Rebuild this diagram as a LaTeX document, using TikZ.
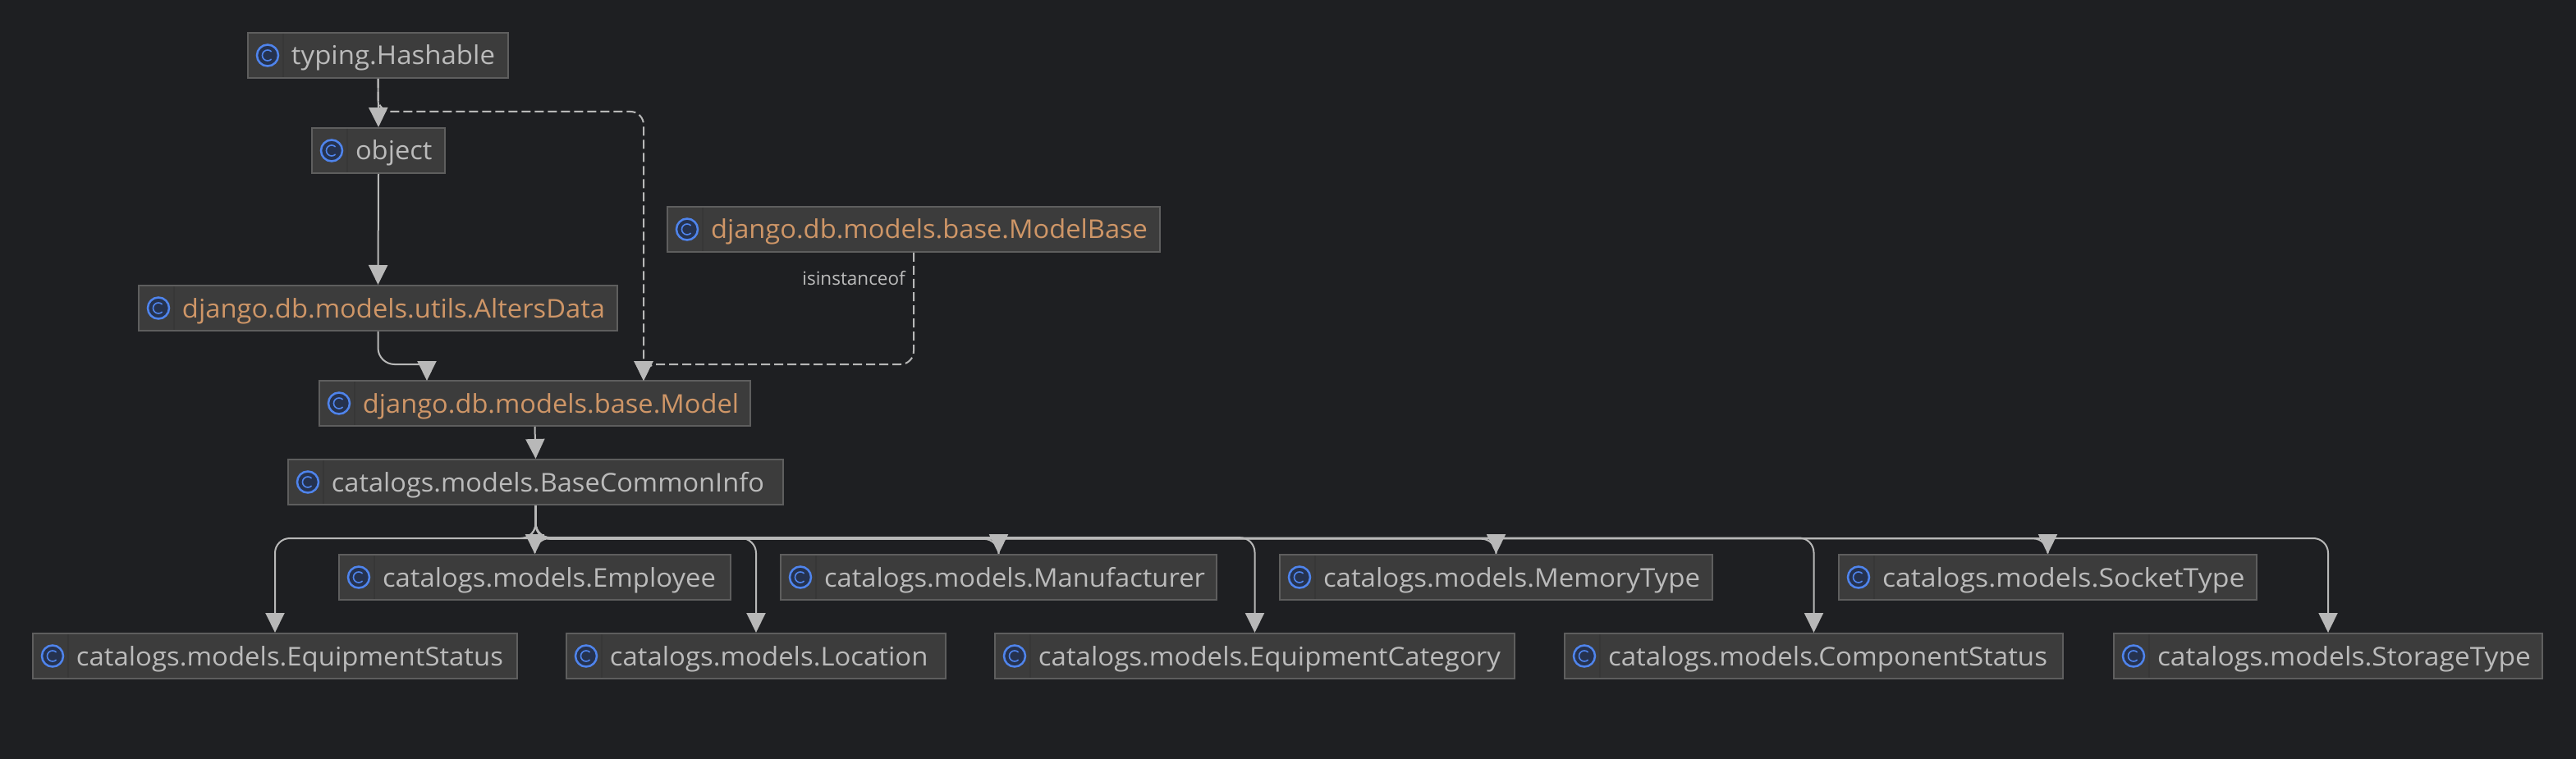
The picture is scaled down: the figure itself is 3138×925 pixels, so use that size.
\documentclass[tikz,border=0pt]{standalone}
\usepackage{fontspec}
\usepackage{graphicx}
\setmainfont{Open Sans}
\usetikzlibrary{arrows.meta}
\definecolor{bg}{HTML}{1E1F22}
\definecolor{boxfill}{HTML}{3C3C3C}
\definecolor{boxline}{HTML}{5E5E5E}
\definecolor{cell}{HTML}{373737}
\definecolor{txt}{HTML}{BBBBBB}
\definecolor{orng}{HTML}{CF9667}
\definecolor{iconb}{HTML}{4F84EC}
\definecolor{iconf}{HTML}{25324F}
\definecolor{edgec}{HTML}{B8B8B8}
\tikzset{
  classbox/.style={draw=boxline,fill=boxfill,line width=2pt,inner sep=0pt,rectangle,minimum height=55pt,font=\fontsize{31.5pt}{36pt}\selectfont},
  edgeline/.style={draw=edgec,line width=2pt},
  edge/.style={edgeline,-{Triangle[width=23pt,length=24pt,fill=edgec]}},
  dashedge/.style={edge,dash pattern=on 11pt off 5pt},
  bus/.style={edge,rounded corners=18pt},
  smalllabel/.style={text=txt,inner sep=0pt,font=\fontsize{22.5pt}{26pt}\selectfont}
}
% name, x1, x2, y1, colour, right margin, text
\newcommand\cls[7]{%
  \pgfmathsetmacro\cx{(#2+#3)/2}%
  \pgfmathsetmacro\cy{#4+27.5}%
  \pgfmathsetmacro\bw{#3-#2}%
  \pgfmathsetmacro\tw{#3-#2-53-#6}%
  \node[classbox,minimum width=\bw pt,text=#5] (#1) at (\cx,\cy)
    {\hspace*{53pt}\raisebox{0pt}[23pt][0pt]{\resizebox{\tw pt}{\height}{#7}}\hspace*{#6pt}};
  \begin{scope}[shift={(#1.west)}]
    \draw[cell,line width=1.5pt] (44,-26.5) -- (44,26.5);
    \draw[iconb,fill=iconf,line width=2.5pt] (25,0) circle[radius=13pt];
    \draw[iconb,line width=1.6pt] (29.6,-4.6) arc[start angle=45,end angle=315,radius=6.5pt];
  \end{scope}
}
\begin{document}
\begin{tikzpicture}[x=1pt,y=-1pt]
\fill[bg] (0,0) rectangle (3138,925);
\useasboundingbox (0,0) rectangle (3138,925);
\coordinate (busy) at (0,656);
\coordinate (upy) at (0,136);
\coordinate (lowy) at (0,444);
\cls{hash}{302}{619}{40}{txt}{16}{typing.Hashable}
\cls{obj}{380}{542}{156}{txt}{15.5}{object}
\cls{mbase}{813}{1413}{252}{orng}{15}{django.db.models.base.ModelBase}
\cls{alters}{169}{752}{348}{orng}{15}{django.db.models.utils.AltersData}
\cls{model}{389}{914}{464}{orng}{14}{django.db.models.base.Model}
\cls{base}{351}{954}{560}{txt}{23}{catalogs.models.BaseCommonInfo}
\cls{emp}{413}{890}{676}{txt}{18}{catalogs.models.Employee}
\cls{manu}{951}{1482}{676}{txt}{14}{catalogs.models.Manufacturer}
\cls{mem}{1559}{2086}{676}{txt}{15}{catalogs.models.MemoryType}
\cls{sock}{2240}{2749}{676}{txt}{14.5}{catalogs.models.SocketType}
\cls{eqs}{40}{630}{772}{txt}{17}{catalogs.models.EquipmentStatus}
\cls{loc}{690}{1152}{772}{txt}{21.5}{catalogs.models.Location}
\cls{eqc}{1212}{1845}{772}{txt}{17}{catalogs.models.EquipmentCategory}
\cls{comp}{1906}{2513}{772}{txt}{19}{catalogs.models.ComponentStatus}
\cls{stor}{2575}{3097}{772}{txt}{14}{catalogs.models.StorageType}
\coordinate (mleft) at (520,464);
\coordinate (mlefttop) at (520,440);
\coordinate (mleftend) at (516,444);
\coordinate (mright) at (784,464);

\draw[edge] (hash.south) -- (obj.north);
\draw[edge] (obj.south) -- (alters.north);
\draw[edgeline,rounded corners=20pt] (alters.south) |- (mleftend);
\draw[edge] (mlefttop) -- (mleft);
\draw[edge] (model.south) -- (base.north);
\draw[dashedge,rounded corners=16pt] (hash.south) |- (mright |- upy) -- (mright);
\draw[dashedge,rounded corners=16pt] (mbase.south) |- (mright |- lowy) -- (mright);
\node[smalllabel,anchor=base east] (lbl) at (1103,347.5) {isinstanceof};

\foreach \c/\d in {eqs/0,emp/0,loc/0,manu/0.8,eqc/-0.8,mem/0.7,comp/-0.5,sock/0.3,stor/0}{
  \path (base.south |- busy) ++(0,\d) coordinate (busa);
  \path (\c.north |- busy) ++(0,\d) coordinate (busb);
  \draw[bus] (base.south) -- (busa) -- (busb) -- (\c.north);
}
\end{tikzpicture}
\end{document}
